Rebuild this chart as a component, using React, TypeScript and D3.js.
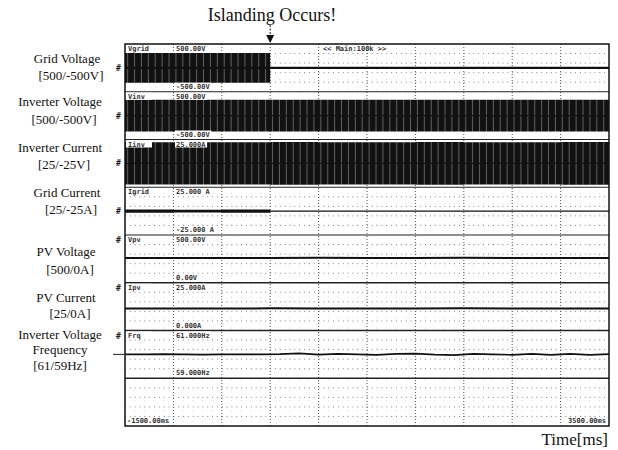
import React from 'react';
import * as d3 from 'd3';

// ---- data ----
const timeMs = [-1500, -1000, -500, 0, 500, 1000, 1500, 2000, 2500, 3000, 3500];
const gridVoltagePeak = [310, 312, 310, 0, 0, 0, 0, 0, 0, 0, 0];
const inverterVoltagePeak = [330, 332, 330, 333, 330, 332, 331, 333, 330, 332, 331];
const inverterCurrentPeak = [22, 22, 22, 22.5, 22, 22, 22.5, 22, 22, 22.5, 22];
const gridCurrentPeak = [1.6, 1.5, 1.6, 0, 0, 0, 0, 0, 0, 0, 0];
const pvVoltage = [260, 260, 260, 260, 261, 260, 260, 261, 260, 260, 260];
const pvCurrent = [11.5, 11.5, 11.5, 11.6, 11.5, 11.5, 11.5, 11.6, 11.5, 11.5, 11.5];

const freqTimeMs = [-1500, -1300, -1100, -900, -700, -500, -300, -100, 100, 300, 500, 700, 900,
  1100, 1300, 1500, 1700, 1900, 2100, 2300, 2500, 2700, 2900, 3100, 3300, 3500];
const frequencyHz = [60.0, 60.0, 60.01, 60.0, 59.99, 60.0, 60.0, 60.0, 60.01, 60.04, 59.99, 60.02, 60.0,
  59.98, 60.02, 60.03, 59.99, 59.97, 60.02, 60.0, 59.98, 60.02, 59.98, 60.02, 59.98, 60.01];

const channelNames = ['Vgrid', 'Vinv', 'Iinv', 'Igrid', 'Vpv', 'Ipv', 'Frq'];
const topLabels = ['500.00V', '500.00V', '25.000A', '25.000 A', '500.00V', '25.000A', '61.000Hz'];
const bottomLabels = ['-500.00V', '-500.00V', '', '-25.000 A', '0.00V', '0.000A', '59.000Hz'];
const domains: [number, number][] = [[-500, 500], [-500, 500], [-25, 25], [-25, 25], [0, 500], [0, 25], [59, 61]];

const sideLabels = [
  ['Grid Voltage', '[500/-500V]'],
  ['Inverter Voltage', '[500/-500V]'],
  ['Inverter Current', '[25/-25V]'],
  ['Grid Current', '[25/-25A]'],
  ['PV Voltage', '[500/0A]'],
  ['PV Current', '[25/0A]'],
  ['Inverter Voltage', 'Frequency', '[61/59Hz]'],
];

const timeDomain: [number, number] = [-1500, 3500];
const islandingMs = 0;

// ---- layout ----
const W = 618, H = 450;
const L = 125, R = 609, T = 44, B = 426;
const nStrips = 8;
const stripH = (B - T) / nStrips;

export default function App() {
  const x = d3.scaleLinear().domain(timeDomain).range([L, R]);
  const yFor = (i: number) =>
    d3.scaleLinear().domain(domains[i]).range([T + (i + 1) * stripH, T + i * stripH]);

  const envelopes: { i: number; peak: number[] }[] = [
    { i: 0, peak: gridVoltagePeak },
    { i: 1, peak: inverterVoltagePeak },
    { i: 2, peak: inverterCurrentPeak },
    { i: 3, peak: gridCurrentPeak },
  ];
  const levels: { i: number; vals: number[] }[] = [
    { i: 4, vals: pvVoltage },
    { i: 5, vals: pvCurrent },
  ];

  const vTicks = d3.range(-1500, 3501, 500);
  const minorV = d3.range(0, 51).map((k) => L + (k * (R - L)) / 50);
  const minorRows: number[] = [];
  for (let s = 0; s < nStrips; s++) for (let k = 1; k < 5; k++) minorRows.push(T + s * stripH + (k * stripH) / 5);

  const serif = 'Liberation Serif, Times New Roman, serif';
  const mono = 'DejaVu Sans Mono, monospace';

  const sideY = [
    [63, 80], [106, 124], [152, 169], [197, 214], [256, 274], [302, 318], [339, 354, 370],
  ];
  const sideX = [67, 60, 60, 67, 66, 66, 60];

  return (
    <svg width={W} height={H} style={{ position: 'absolute', left: 0, top: 0, background: '#fff' }}>
      <defs>
        <pattern id="wave" width={6.9} height={9} patternUnits="userSpaceOnUse">
          <rect width={6.9} height={9} fill="#111" />
          <line x1={3.4} x2={3.4} y1={0} y2={9} stroke="#9a9a9a" strokeWidth={1} opacity={0.6} />
        </pattern>
      </defs>

      {/* title + arrow */}
      <text x={272} y={21} fontFamily={serif} fontSize={18} textAnchor="middle" fill="#111">Islanding Occurs!</text>
      <line x1={x(islandingMs)} x2={x(islandingMs)} y1={25} y2={36} stroke="#111" strokeWidth={1} strokeDasharray="2 1.5" />
      <path d={`M${x(islandingMs) - 4},35 L${x(islandingMs) + 4},35 L${x(islandingMs)},43 Z`} fill="#111" />

      {/* minor dotted rows */}
      {minorRows.map((yy, k) => (
        <line key={'mr' + k} x1={L} x2={R} y1={yy} y2={yy} stroke="#777" strokeWidth={1} strokeDasharray="0.9 3.94" />
      ))}
      {/* minor ticks between major verticals */}
      {minorV.map((xx, k) => (
        k % 5 === 0 ? null : (
          <line key={'mv' + k} x1={xx} x2={xx} y1={T} y2={B} stroke="#aaa" strokeWidth={0.6} strokeDasharray="0.8 9.55" strokeDashoffset={-4.3} />
        )
      ))}
      {/* major vertical dotted lines */}
      {vTicks.slice(1, -1).map((t) => (
        <line key={'v' + t} x1={x(t)} x2={x(t)} y1={T} y2={B} stroke="#555" strokeWidth={1} strokeDasharray="1 2" />
      ))}
      {/* strip dividers */}
      {d3.range(1, nStrips).map((s) => (
        <line key={'h' + s} x1={L} x2={R} y1={T + s * stripH} y2={T + s * stripH} stroke="#222" strokeWidth={s >= 5 ? 1.6 : 1.1} />
      ))}

      {/* envelope bands for the dense sinusoids */}
      {envelopes.map(({ i, peak }) => {
        const y = yFor(i);
        const area = d3.area<number>()
          .x((_, k) => x(timeMs[k]))
          .y0((p) => y(-p))
          .y1((p) => y(p))
          .curve(d3.curveStepAfter);
        const mid = d3.line<number>()
          .x((_, k) => x(timeMs[k]))
          .y(() => y(0));
        return (
          <g key={'env' + i}>
            <path d={area(peak) || ''} fill={i === 3 ? '#111' : 'url(#wave)'} />
            <path d={mid(peak) || ''} fill="none" stroke="#111" strokeWidth={i === 0 ? 2.2 : 1.2} />
          </g>
        );
      })}

      {/* DC levels */}
      {levels.map(({ i, vals }) => {
        const y = yFor(i);
        const line = d3.line<number>().x((_, k) => x(timeMs[k])).y((v) => y(v));
        return <path key={'lv' + i} d={line(vals) || ''} fill="none" stroke="#111" strokeWidth={2} />;
      })}

      {/* frequency */}
      {(() => {
        const y = yFor(6);
        const line = d3.line<number>().x((_, k) => x(freqTimeMs[k])).y((v) => y(v));
        return <path d={line(frequencyHz) || ''} fill="none" stroke="#111" strokeWidth={1.6} />;
      })()}

      {/* scope channel texts */}
      {channelNames.map((nm, i) => {
        const top = T + i * stripH;
        const bot = T + (i + 1) * stripH;
        return (
          <g key={'ct' + i} fontFamily={mono} fontSize={7} fontWeight="bold" fill="#333">
            <rect x={L + 1} y={top + 1} width={26} height={7} fill="#fff" />
            <text x={L + 3} y={top + 7}>{nm}</text>
            <rect x={175} y={top + 1} width={topLabels[i].length * 4.3 + 2} height={7} fill="#fff" />
            <text x={176} y={top + 7}>{topLabels[i]}</text>
            {bottomLabels[i] && (
              <>
                <rect x={175} y={bot - 9} width={bottomLabels[i].length * 4.3 + 2} height={7} fill="#fff" />
                <text x={176} y={bot - 3}>{bottomLabels[i]}</text>
              </>
            )}
            {/* channel marker on the left edge */}
            <text x={116} y={top + (i >= 4 ? 8 : stripH / 2 + 3)} fontSize={8} fill="#222">{'#'}</text>
          </g>
        );
      })}
      <line x1={113} x2={124} y1={yFor(6)(60)} y2={yFor(6)(60)} stroke="#222" strokeWidth={1} />
      <g fontFamily={mono} fontSize={7} fontWeight="bold" fill="#333">
        <text x={323} y={T + 7}>{'<< Main:100k >>'}</text>
        <text x={L + 2} y={B - 3}>-1500.00ms</text>
        <text x={R - 3} y={B - 3} textAnchor="end">3500.00ms</text>
      </g>

      {/* frame */}
      <rect x={L} y={T} width={R - L} height={B - T} fill="none" stroke="#111" strokeWidth={1.5} />

      {/* left side labels */}
      {sideLabels.map((lines, i) => (
        <g key={'sl' + i} fontFamily={serif} fontSize={13} fill="#111" textAnchor="middle">
          {lines.map((ln, k) => (
            <text key={k} x={k === lines.length - 1 && lines.length === 2 ? sideX[i] + 4 : sideX[i]} y={sideY[i][k]}>{ln}</text>
          ))}
        </g>
      ))}

      <text x={608} y={445} fontFamily={serif} fontSize={17} textAnchor="end" fill="#111">Time[ms]</text>
    </svg>
  );
}
